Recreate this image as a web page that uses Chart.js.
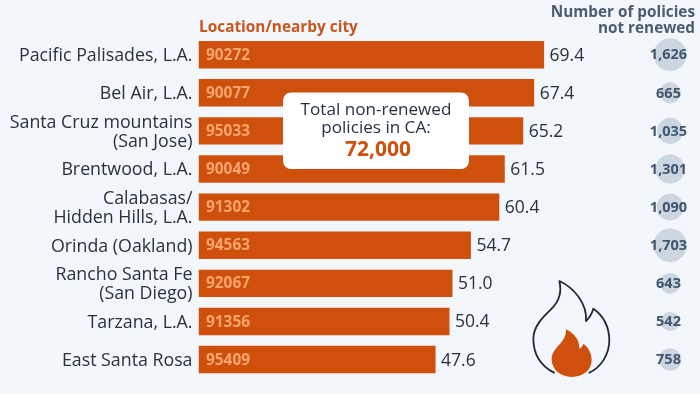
<!DOCTYPE html>
<html><head><meta charset="utf-8">
<style>html,body{margin:0;padding:0;background:#f3f6fa}canvas{display:block}</style>
<script src="https://cdn.jsdelivr.net/npm/chart.js@4"></script></head>
<body><canvas id="c" width="700" height="394"></canvas>
<script>
const categories=[["Pacific Palisades, L.A."],["Bel Air, L.A."],["Santa Cruz mountains","(San Jose)"],["Brentwood, L.A."],["Calabasas/","Hidden Hills, L.A."],["Orinda (Oakland)"],["Rancho Santa Fe","(San Diego)"],["Tarzana, L.A."],["East Santa Rosa"]];
const zipCodes=["90272","90077","95033","90049","91302","94563","92067","91356","95409"];
const rates=[69.4,67.4,65.2,61.5,60.4,54.7,51.0,50.4,47.6];
const policies=[1626,665,1035,1301,1090,1703,643,542,758];
const FONT='"Open Sans"';
const ORANGE='#cf4f0c', INK='#26323f';
Chart.controllers.bubble.prototype.getMaxOverflow=function(){return 0};
const overlay={id:'overlay',
 beforeDraw(chart){
  const s=chart.scales.y;
  if(!s.$shifted){s.getLabelItems().forEach(it=>{it.options.translation[1]+=1.3});s.$shifted=true}
 },
 afterDatasetsDraw(chart){
  const c=chart.ctx,x=chart.scales.x,y=chart.scales.y;
  c.save();c.textBaseline='middle';
  rates.forEach((v,i)=>{
    const py=y.getPixelForValue(i);
    c.textAlign='left';
    c.font='bold 15.4px '+FONT;c.fillStyle='#f8a66e';c.fillText(zipCodes[i],x.getPixelForValue(0)+7.5,py+0.7);
    c.font='17.5px '+FONT;c.fillStyle=INK;c.fillText(v.toFixed(1),x.getPixelForValue(v)+5.5,py+1);
    c.textAlign='center';
    c.font='bold 14.5px '+FONT;c.fillStyle='#41566f';c.fillText(policies[i].toLocaleString('en-US'),668.5,py+0.7);
  });
  c.textAlign='left';c.font='bold 15.4px '+FONT;c.fillStyle='#c8561f';c.fillText('Location/nearby city',199,27.5);
  c.textAlign='right';c.font='bold 15.3px '+FONT;c.fillStyle='#4b5c72';
  c.fillText('Number of policies',695,12.5);c.fillText('not renewed',695,28.5);
  // callout
  c.fillStyle='#fff';c.beginPath();c.roundRect(283,92.5,186,76.5,8);c.fill();
  c.textAlign='center';c.fillStyle=INK;c.font='17.1px '+FONT;
  c.fillText('Total non-renewed',376,110);c.fillText('policies in CA:',376,128.5);
  c.fillStyle=ORANGE;c.font='bold 21px '+FONT;c.fillText('72,000',378,150.5);
  // flame icon (zoom-derived outline)
  const X=v=>350+v/3,Y=v=>197+v/3;
  c.strokeStyle='#1d2a38';c.lineWidth=1.8;c.lineJoin='round';c.lineCap='round';
  c.beginPath();c.moveTo(X(612),Y(527));
  c.bezierCurveTo(X(570),Y(505),X(550),Y(470),X(550),Y(425));
  c.bezierCurveTo(X(550),Y(385),X(585),Y(355),X(605),Y(335));
  c.bezierCurveTo(X(628),Y(312),X(636),Y(285),X(628),Y(252));
  c.bezierCurveTo(X(672),Y(272),X(712),Y(320),X(708),Y(372));
  c.bezierCurveTo(X(718),Y(362),X(726),Y(350),X(730),Y(335));
  c.bezierCurveTo(X(760),Y(355),X(778),Y(390),X(778),Y(430));
  c.bezierCurveTo(X(778),Y(470),X(755),Y(510),X(718),Y(527));
  c.stroke();
  c.fillStyle=ORANGE;c.beginPath();c.moveTo(X(648),Y(397));
  c.bezierCurveTo(X(672),Y(408),X(690),Y(430),X(688),Y(456));
  c.bezierCurveTo(X(694),Y(452),X(698),Y(447),X(700),Y(440));
  c.bezierCurveTo(X(716),Y(452),X(725),Y(470),X(725),Y(490));
  c.bezierCurveTo(X(725),Y(520),X(698),Y(540),X(665),Y(540));
  c.bezierCurveTo(X(632),Y(540),X(605),Y(518),X(605),Y(487));
  c.bezierCurveTo(X(605),Y(450),X(650),Y(440),X(648),Y(397));
  c.closePath();c.fill();
  c.restore();
 }};
new Chart(document.getElementById('c'),{
 data:{labels:categories,datasets:[
  {type:'bar',indexAxis:'y',data:rates,backgroundColor:ORANGE,barPercentage:0.72,categoryPercentage:1,order:2},
  {type:'bubble',clip:false,data:policies.map((p,i)=>({x:94.7,y:i,r:0.405*Math.sqrt(p)})),backgroundColor:'#cbd6e1',borderWidth:0,order:1}
 ]},
 options:{responsive:false,animation:false,events:[],
  layout:{padding:{top:35.6,bottom:14,right:3.5,left:0}},
  plugins:{legend:{display:false},tooltip:{enabled:false}},
  scales:{
   x:{type:'linear',min:0,max:100,display:false},
   y:{type:'category',offset:true,grid:{display:false,drawTicks:false},border:{display:false},
      afterFit(s){s.width=198.5},
      ticks:{autoSkip:false,padding:6,color:INK,font:{family:FONT,size:17.8,lineHeight:1.05},
        callback(v,i){return categories[i]}}}
  }},
 plugins:[overlay]
});
</script></body></html>
